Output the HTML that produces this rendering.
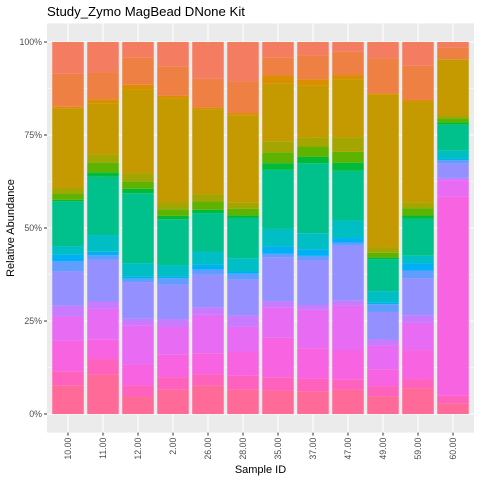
<!DOCTYPE html>
<html><head><meta charset="utf-8"><style>
html,body{margin:0;padding:0;background:#fff;}
svg{display:block;font-family:"Liberation Sans",Arial,sans-serif;}
</style></head><body>
<svg id="chart" width="480" height="480" viewBox="0 0 480 480"></svg>
<script>
const categories = ["10.00","11.00","12.00","2.00","26.00","28.00","35.00","37.00","47.00","49.00","59.00","60.00"];
const taxa = ["A","B","C","D","E","F","G","H","I","J","K","L","M","N","O","P","Q"];
const taxaColors = ["#FF6A98","#FF62BC","#F763E0","#E76BF3","#C77CFF","#9590FF","#619CFF","#00B0F6","#00BFC4","#00C08B","#00BA38","#5EB300","#A3A500","#C49A00","#DB8E00","#EE8044","#F47D61"];
const s10 = [7.7,3.8,8.2,6.5,2.9,9.2,2.7,1.8,2.3,12.0,0.4,1.7,1.5,21.3,0.5,8.9,8.5];
const s11 = [10.6,4.2,5.2,8.3,2.0,11.2,1.3,0.9,4.5,15.7,1.2,2.7,2.2,13.6,1.2,7.3,8.1];
const s12 = [4.7,3.0,5.6,10.6,1.7,9.9,0.9,0.5,3.7,18.8,1.2,2.0,2.1,22.6,1.3,7.4,4.1];
const s2 = [6.5,3.4,6.0,7.6,2.0,9.2,1.8,0.4,3.1,12.3,0.9,1.8,1.8,27.9,0.8,7.9,6.5];
const s26 = [7.6,3.1,5.6,10.3,2.0,8.8,1.3,1.3,3.6,10.3,0.9,2.2,2.0,22.8,0.4,7.7,9.9];
const s28 = [6.5,3.8,6.5,6.7,3.0,9.6,1.6,0.6,3.6,10.8,0.7,1.8,1.7,23.4,0.6,8.5,10.6];
const s35 = [6.3,3.6,10.6,8.2,1.6,11.9,0.9,2.0,4.7,15.9,1.8,2.9,3.0,15.5,2.2,4.9,4.1];
const s37 = [6.1,3.4,8.2,10.3,1.3,12.1,1.1,1.8,4.3,18.8,1.7,2.8,2.4,13.9,1.8,6.4,3.6];
const s47 = [6.5,2.7,7.9,12.1,1.3,14.8,0.9,1.2,4.7,13.4,2.2,2.9,3.9,15.7,1.1,6.3,2.6];
const s49 = [4.8,2.7,4.5,6.5,1.5,7.4,2.1,0.4,3.1,8.6,0.4,1.3,1.4,41.0,0.4,9.4,4.4];
const s59 = [6.9,2.4,7.9,7.4,2.0,9.9,2.1,2.0,2.0,9.9,0.9,2.0,1.6,27.1,0.4,9.2,6.4];
const s60 = [2.9,2.0,53.6,4.5,0.6,3.9,0.9,0.3,2.2,7.0,0.6,1.2,0.7,15.0,0.2,3.2,1.4];
const series = [s10,s11,s12,s2,s26,s28,s35,s37,s47,s49,s59,s60];
const yTicks = [0,25,50,75,100];
const yTickLabels = ["0%","25%","50%","75%","100%"];

const NS="http://www.w3.org/2000/svg";
const svg=document.getElementById('chart');
const P={l:47,r:474,t:23.4,b:432.6};
const n=categories.length;
const unit=(P.r-P.l)/(n+0.2);
function xCenter(i){return P.l+(0.6+i)*unit;}
function yScale(p){return 414-p*3.72;}
function mk(tag,attrs,parent){const e=document.createElementNS(NS,tag);for(const k in attrs)e.setAttribute(k,attrs[k]);(parent||svg).appendChild(e);return e;}

const bg=mk('rect',{x:P.l,y:P.t,width:P.r-P.l,height:P.b-P.t,fill:'#EBEBEB'});


for(let i=0;i<yTicks.length-1;i++){
  const y=yScale((yTicks[i]+yTicks[i+1])/2);
  const g=mk('line',{x1:P.l,x2:P.r,y1:y,y2:y,stroke:'#fff','stroke-width':0.5});
  
  
}
yTicks.forEach((t,i)=>{
  const y=yScale(t);
  const g=mk('line',{x1:P.l,x2:P.r,y1:y,y2:y,stroke:'#fff','stroke-width':1.1});
  
  
  const tk=mk('line',{x1:P.l-3,x2:P.l,y1:y,y2:y,stroke:'#333','stroke-width':1});
  
  
  const lb=mk('text',{x:P.l-5,y:y+3,'text-anchor':'end','font-size':'8.8',fill:'#4D4D4D'});
  lb.textContent=yTickLabels[i];
  
  
});
categories.forEach((c,i)=>{
  const x=xCenter(i);
  const g=mk('line',{x1:x,x2:x,y1:P.t,y2:P.b,stroke:'#fff','stroke-width':1.1});
  
  
});
const bw=unit*0.9;
series.forEach((vals,i)=>{
  const x=xCenter(i)-bw/2;
  const total=vals.reduce((a,b)=>a+b,0);
  let cum=0;
  vals.forEach((v,j)=>{
    const p=v/total*100;
    const y1=yScale(cum), y2=yScale(cum+p);
    const r=mk('rect',{x:x,y:y2,width:bw,height:Math.max(0,y1-y2),fill:taxaColors[j]});
    
    
    cum+=p;
  });
});
categories.forEach((c,i)=>{
  const x=xCenter(i);
  const tk=mk('line',{x1:x,x2:x,y1:P.b,y2:P.b+3,stroke:'#333','stroke-width':1});
  
  
  const lb=mk('text',{x:0,y:0,'text-anchor':'end','font-size':'8.8',fill:'#4D4D4D',transform:`translate(${x+3},${P.b+5}) rotate(-90)`});
  lb.textContent=c;
  
  
});
const t=mk('text',{x:47,y:16,'font-size':'13.2',fill:'#000'});
t.textContent='Study_Zymo MagBead DNone Kit';


const xt=mk('text',{x:(P.l+P.r)/2,y:473,'text-anchor':'middle','font-size':'11',fill:'#000'});
xt.textContent='Sample ID';


const yt=mk('text',{x:0,y:0,'text-anchor':'middle','font-size':'11',fill:'#000',transform:`translate(14,${(P.t+P.b)/2}) rotate(-90)`});
yt.textContent='Relative Abundance';


</script>
</body></html>
